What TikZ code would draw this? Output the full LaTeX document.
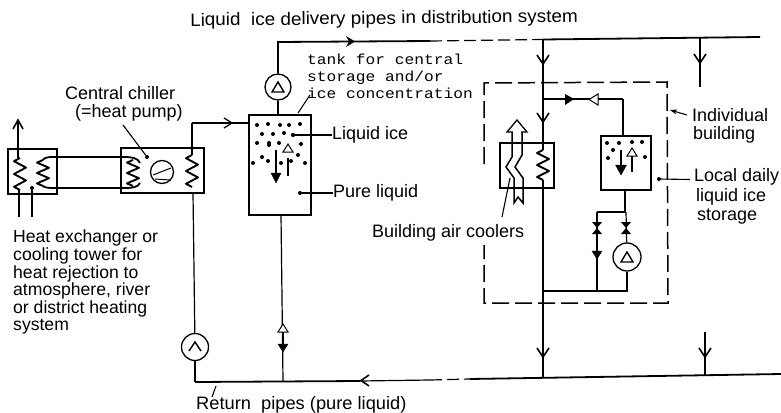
\documentclass[tikz,border=0pt]{standalone}
\usepackage{fontspec}
\setmainfont{Liberation Sans}
\newfontfamily\tankfont[FakeStretch=1.12]{Liberation Mono}
\usetikzlibrary{arrows.meta}
\tikzset{
  pipe/.style={line width=1.2pt,line join=miter},
  thick pipe/.style={line width=1.8pt},
  lead/.style={line width=1.1pt},
  boxx/.style={draw,line width=1.4pt,inner sep=0pt,minimum width=0pt,rectangle},
  pumpc/.style={draw,circle,line width=1.3pt,inner sep=0pt},
  lab/.style={anchor=west,inner sep=0pt,font=\fontsize{18}{20}\selectfont,align=left},
  hxlab/.style={anchor=north west,inner sep=0pt,font=\fontsize{17.6}{17.6}\selectfont,align=left},
  monolab/.style={anchor=north west,inner sep=0pt,font=\fontsize{14.5}{17}\tankfont,align=left},
  blk/.style={fill=black,draw=black},
  opn/.style={fill=white,draw=black,line width=1pt},
  dd/.style={circle,fill=black,inner sep=0pt,minimum size=4pt},
}
\newcommand\coilv[3]{% x, top y, bottom y
  \draw[line width=1.9pt,line join=round] (#1,#2)
   \foreach \k in {1,...,5}{ -- ({#1+(mod(\k,2)==1?-6:6)},{#2+(#3-#2)*(\k-0.5)/5}) } -- (#1,#3);}
\newcommand\downV[2]{\draw[line width=1.6pt] (#1-6,#2-9)--(#1,#2)--(#1+6,#2-9);}
\newcommand\downF[2]{\draw[blk] (#1-5,#2-8)--(#1+5,#2-8)--(#1,#2)--cycle;}
\newcommand\upO[2]{\draw[opn] (#1-5,#2+8)--(#1+5,#2+8)--(#1,#2)--cycle;}
\newcommand\tri[2]{\draw[line width=1.4pt] (#1-6,#2+5)--(#1+6,#2+5)--(#1,#2-5)--cycle;}
\newcommand\valve[2]{\fill (#1-5,#2-6)--(#1+5,#2-6)--(#1-5,#2+6)--(#1+5,#2+6)--cycle;}
\begin{document}
\begin{tikzpicture}[x=1pt,y=-1pt]
\useasboundingbox (0,0) rectangle (781,412);
% boxes
\node[boxx,minimum width=49pt,minimum height=45pt] (hx) at (32.5,171.5) {};
\node[boxx,minimum width=83pt,minimum height=45pt] (ch) at (162.5,170.5) {};
\node[boxx,minimum width=62pt,minimum height=100pt] (tank) at (280,165) {};
\node[boxx,minimum width=54pt,minimum height=45pt] (cool) at (527,165.5) {};
\node[boxx,minimum width=50pt,minimum height=54pt] (ltank) at (626,163) {};
% pumps
\node[pumpc,minimum size=26pt] (p1) at (278,87) {};
\node[pumpc,minimum size=27pt] (p2) at (195,347) {};
\node[pumpc,minimum size=28pt] (p3) at (627,257) {};
\node[pumpc,minimum size=23pt] (comp) at (162,172) {};
\tri{278}{87}\tri{627}{257}
\draw[line width=1.4pt] (189,351)--(195,342)--(201,351);
\draw[line width=1pt] (153,175)--(171,168);\draw[line width=1pt] (155,179)--(170,180);
% named junctions
\coordinate (topL) at (278,42);
\coordinate (topR) at (760,37);
\coordinate (m1) at (543,39.5);
\coordinate (r1) at (700,37.6);
\coordinate (r1e) at (700,87);
\coordinate (m2) at (543,99);
\coordinate (mcoilT) at (543,143);
\coordinate (mcoilB) at (543,188);
\coordinate (m3) at (543,291);
\coordinate (m4) at (543,378);
\coordinate (r2s) at (705,332);
\coordinate (r2) at (705,376);
\coordinate (botL) at (195,382);
\coordinate (botR) at (781,374);
\coordinate (t1) at (283,381);
\coordinate (ln) at (623,99);
\coordinate (rp) at (192,123);
\coordinate (rp2) at (193,193);
\coordinate (tin) at (249,123);
\coordinate (hu) at (18,120);
\coordinate (hd) at (19,217);
% pipes
\draw[pipe] (p1)--(278,115);
\draw[thick pipe] (p1)--(topL)--(430,41);
\draw[pipe,dash pattern=on 12pt off 5pt] (430,41)--(m1);
\draw[thick pipe] (m1)--(topR);
\draw[pipe] (m1)--(mcoilT) (mcoilB)--(m4);
\draw[pipe] (r1)--(r1e);
\draw[pipe] (r2s)--(r2);
\draw[thick pipe] (m3)--(627,291)--(p3);
\draw[pipe] (597,291)--(597,212);
\draw[thick pipe] (597,212)--(626,212);
\draw[thick pipe] (625,190)--(625,212);
\draw[pipe] (626,212)--(p3);
\draw[thick pipe] (m2)--(ln);
\draw[pipe] (ln)--(ltank.north-|ln);
\draw[thick pipe] (botL)--(360,381);
\draw[pipe] (360,381)--(430,380);
\draw[pipe,dash pattern=on 12pt off 5pt] (430,380)--(470,379);
\draw[thick pipe] (470,379)--(botR);
\draw[pipe] (botL)--(p2);
\draw[pipe] (p2)--(rp2);
\draw[pipe] (rp)--(tin);
\draw[thick pipe] (rp)--(192,155);
\draw[pipe] (281,215)--(t1);
\draw[pipe] (hu)--(18,158);
\draw[thick pipe] (19,190)--(hd);
\draw[line width=1.6pt] (13,129)--(hu)--(23,129);
% condenser loop
\draw[thick pipe] (43,160) .. controls (44,158) and (47,157) .. (52,157) -- (124,157) .. controls (132,157) and (138,158) .. (140,163);
\draw[thick pipe] (43,186) .. controls (44,187) and (47,188) .. (52,188) -- (124,188) .. controls (130,188) and (138,188) .. (140,183);
\coilv{20}{158}{190}
\coilv{43}{160}{186}
\coilv{133}{160}{186}
\coilv{192}{155}{187}
\coilv{543}{150}{180}
\draw[pipe] (543,143)--(543,150) (543,180)--(543,188);
% arrows on lines
\draw[line width=1.3pt] (224,118)--(232,123)--(224,128);
\fill (346,36)--(355,41.5)--(346,47)--(349,41.5)--cycle;
\downV{543}{64}\downV{543}{122}\downV{543}{357}
\downV{700}{63}\downV{705}{357}
\draw[line width=1.6pt] (369,375)--(361,380.5)--(369,386);
\fill (565,94)--(574,99)--(565,105)--cycle;
\draw[opn] (598,94)--(598,105)--(589,99.5)--cycle;
\upO{283}{324}\downF{283}{352}
\draw[pipe] (283,332)--(283,344);
\valve{597}{228}\valve{626}{228}
\downF{597}{259}
% tank internal arrows
\draw[pipe] (276,150)--(276,175);
\draw[blk] (271,173)--(281,173)--(276,183)--cycle;
\draw[pipe] (288,158)--(288,176);
\upO{288}{144}
% local tank internal arrows
\draw[line width=1.4pt] (621,150)--(621,167);
\draw[blk] (615.5,165)--(626.5,165)--(621,175)--cycle;
\draw[line width=1.6pt] (632,156)--(632,172);
\upO{632}{148}
% air duct
\draw[line width=1.5pt] (512,132)--(512,157)--(506,167)--(514,178)--(514,203)--(518,197)--(523,203)--(523,178)--(515,167)--(522,155)--(522,132);
\draw[opn,line width=1.3pt] (507,132)--(527,132)--(517,120)--cycle;
\fill[white] (513,131) rectangle (521,134.5);
% ice dots, central tank
\foreach \a/\b in {257/125,268/124,280/125,289/125,300/124,262/134,273/134,284/133,293/135,257/143,269/145,269/143,279/143,301/144,262/157,268/161,281/163,291/161,298/155,305/163,253/163}{\node[dd] at (\a,\b) {};}
% ice dots, local tank
\foreach \a/\b in {607/143,619/143,632/142,642/142,613/150,608/158,645/157}{\node[dd] at (\a,\b) {};}
% dashed building boundary
\draw[line width=1.5pt,dash pattern=on 17pt off 6pt] (484,164)--(484,83)--(667,82)--(668,303)--(484,303)--(484,245);
% labels
\node[lab,rotate=0.6,xscale=1.05,anchor=west] (tTop) at (190,21.5) {Liquid\ \ ice delivery pipes in distribution system};
\node[lab] (tCh1) at (65,93) {Central chiller};
\node[lab] (tCh2) at (75,113) {(=heat pump)};
\node[hxlab] (tHx) at (13,230) {Heat exchanger or\\cooling tower for\\heat rejection to\\atmosphere, river\\or district heating\\system};
\node[monolab] (tTank) at (307,54) {tank for central\\storage and/or\\ice concentration};
\node[lab] (tIce) at (332,135) {Liquid ice};
\node[lab] (tPure) at (333,193) {Pure liquid};
\node[lab] (tAir) at (372,233) {Building air coolers};
\node[lab] (tInd1) at (692,115) {Individual};
\node[lab] (tInd2) at (693,135) {building};
\node[lab] (tLoc1) at (694,177) {Local daily};
\node[lab] (tLoc2) at (696,197) {liquid ice};
\node[lab] (tLoc3) at (697,217) {storage};
\node[lab,xscale=1.015] (tRet) at (196,405) {Return\ \ pipes (pure liquid)};
% leaders
\node[dd] (dCh) at (147,157) {};
\node[dd] (dHx) at (32,188) {};
\node[dd] (dIce) at (293,135) {};
\node[dd] (dPure) at (300,193) {};
\node[dd] (dLoc) at (659,179) {};
\coordinate (cAir) at (510,178);
\draw[lead] (123,125)--(dCh);
\draw[lead] (dHx)--(32,217);
\draw[lead] (dIce)--(tIce);
\draw[lead] (dPure)--(tPure);
\draw[lead] (dLoc)--(690,179.5);
\draw[lead] (502,217)--(cAir);
\draw[lead,-{Stealth[length=7pt,width=5pt]}] (687,115)--(670,110);
\draw[lead] (298,113)--(310,95);
\draw[lead] (212,397)--(216,386);
\end{tikzpicture}
\end{document}
